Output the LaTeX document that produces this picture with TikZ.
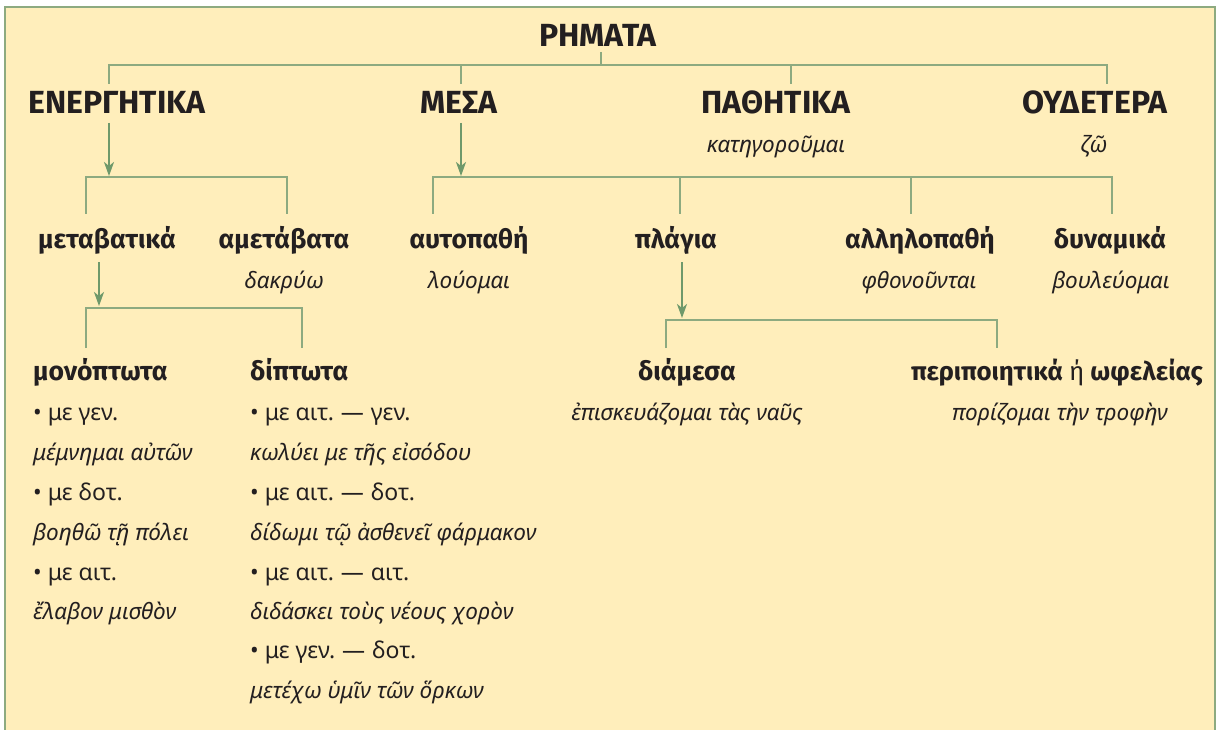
\documentclass[tikz,border=0pt]{standalone}
\usepackage{fontspec}
\setmainfont{Noto Sans}
\newfontfamily\hfont{Fira Sans}
\usetikzlibrary{arrows.meta}
\definecolor{bg}{HTML}{FFEEBB}
\definecolor{ln}{HTML}{8DAA80}
\definecolor{ar}{HTML}{6F996B}
\definecolor{tx}{HTML}{231F20}
\tikzset{
  conn/.style={draw=ln, line width=2pt},
  arr/.style={draw=ar, line width=2pt, -{Stealth[length=14pt,width=10pt,inset=4pt]}},
  hA/.style={font=\hfont\bfseries\fontsize{32}{34}\selectfont, text=tx, inner sep=0pt, anchor=base},
  hB/.style={font=\hfont\bfseries\fontsize{26.5}{28}\selectfont, text=tx, inner sep=0pt, anchor=base},
  exm/.style={font=\itshape\fontsize{22.5}{24}\selectfont, text=tx, inner sep=0pt, anchor=base},
  rg/.style={font=\fontsize{23}{24}\selectfont, text=tx, inner sep=0pt, anchor=base west},
}
\newcommand{\dsh}{\hspace{0.3em}—\hspace{0.3em}}
\begin{document}
\begin{tikzpicture}[x=1pt,y=-1pt]
\useasboundingbox (0,0) rectangle (1221,730);
\fill[white] (0,0) rectangle (1221,730);
\fill[bg] (5,7) rectangle (1215,730);
\draw[ln, line width=2.5pt] (5,730) -- (5,7) -- (1215,7) -- (1215,730);

% level 0 and 1
\node[hA] (rhm) at (598,47) {ΡΗΜΑΤΑ};
\node[hA] (ene) at (117,114) {ΕΝΕΡΓΗΤΙΚΑ};
\node[hA] (mes) at (459,114) {ΜΕΣΑ};
\node[hA] (pas) at (776,114) {ΠΑΘΗΤΙΚΑ};
\node[hA] (oud) at (1095,114) {ΟΥΔΕΤΕΡΑ};
\node[exm] (pasx) at (776,153) {κατηγοροῦμαι};
\node[exm] (oudx) at (1094,153) {ζῶ};

% level 2
\node[hB] (met) at (107,248) {μεταβατικά};
\node[hB] (amet) at (284,248) {αμετάβατα};
\node[exm] (ametx) at (284,288) {δακρύω};
\node[hB] (auto) at (469,248) {αυτοπαθή};
\node[exm] (autox) at (469,288) {λούομαι};
\node[hB] (plag) at (676,248) {πλάγια};
\node[hB] (allo) at (920,248) {αλληλοπαθή};
\node[exm] (allox) at (919,288) {φθονοῦνται};
\node[hB] (dyn) at (1110,248) {δυναμικά};
\node[exm] (dynx) at (1111,288) {βουλεύομαι};

% level 3
\node[hB, anchor=base west] (mono) at (33,380) {μονόπτωτα};
\node[rg] (m1) at (33,420) {• με γεν.};
\node[exm, anchor=base west] (m1x) at (33,460) {μέμνημαι αὐτῶν};
\node[rg] (m2) at (33,500) {• με δοτ.};
\node[exm, anchor=base west] (m2x) at (33,540) {βοηθῶ τῇ πόλει};
\node[rg] (m3) at (33,580) {• με αιτ.};
\node[exm, anchor=base west] (m3x) at (33,619) {ἔλαβον μισθὸν};

\node[hB, anchor=base west] (dip) at (250,380) {δίπτωτα};
\node[rg] (d1) at (250,420) {• με αιτ.\dsh γεν.};
\node[exm, anchor=base west] (d1x) at (250,460) {κωλύει με τῆς εἰσόδου};
\node[rg] (d2) at (250,500) {• με αιτ.\dsh δοτ.};
\node[exm, anchor=base west] (d2x) at (250,540) {δίδωμι τῷ ἀσθενεῖ φάρμακον};
\node[rg] (d3) at (250,580) {• με αιτ.\dsh αιτ.};
\node[exm, anchor=base west] (d3x) at (250,619) {διδάσκει τοὺς νέους χορὸν};
\node[rg] (d4) at (250,658) {• με γεν.\dsh δοτ.};
\node[exm, anchor=base west] (d4x) at (250,698) {μετέχω ὑμῖν τῶν ὅρκων};

\node[hB] (diam) at (687,380) {διάμεσα};
\node[exm] (diamx) at (687,420) {ἐπισκευάζομαι τὰς ναῦς};
\node[hB, font=\hfont\bfseries\fontsize{25.8}{28}\selectfont] (peri) at (1057,380) {περιποιητικά {\mdseries ή} ωφελείας};
\node[exm] (perix) at (1060,420) {πορίζομαι τὴν τροφὴν};

% connectors level 1
\coordinate (bus1) at (601,65);
\coordinate (t11) at (109,84);
\coordinate (t12) at (461,84);
\coordinate (t13) at (791,84);
\coordinate (t14) at (1107,84);
\draw[conn] (601,52) -- (bus1);
\draw[conn] (t11) -- (t11|-bus1) -- (t14|-bus1) -- (t14);
\draw[conn] (t12) -- (t12|-bus1);
\draw[conn] (t13) -- (t13|-bus1);

% arrows to level 2
\coordinate (a1s) at (109,123); \coordinate (a1e) at (109,176);
\coordinate (a2s) at (461,123); \coordinate (a2e) at (461,176);
\draw[arr] (a1s) -- (a1e);
\draw[arr] (a2s) -- (a2e);

\coordinate (bus2) at (0,177);
\coordinate (t21) at (86,214);
\coordinate (t22) at (287,214);
\draw[conn] (t21) -- (t21|-bus2) -- (t22|-bus2) -- (t22);
\coordinate (t23) at (433,214);
\coordinate (t24) at (680,214);
\coordinate (t25) at (911,214);
\coordinate (t26) at (1112,214);
\draw[conn] (t23) -- (t23|-bus2) -- (t26|-bus2) -- (t26);
\draw[conn] (t24) -- (t24|-bus2);
\draw[conn] (t25) -- (t25|-bus2);

% arrows to level 3
\coordinate (a3s) at (99,262); \coordinate (a3e) at (99,306);
\coordinate (a4s) at (682,262); \coordinate (a4e) at (682,318);
\draw[arr] (a3s) -- (a3e);
\draw[arr] (a4s) -- (a4e);

\coordinate (bus3) at (0,308);
\coordinate (t31) at (86,348);
\coordinate (t32) at (302,348);
\draw[conn] (t31) -- (t31|-bus3) -- (t32|-bus3) -- (t32);
\coordinate (bus4) at (0,320);
\coordinate (t41) at (666,348);
\coordinate (t42) at (997,348);
\draw[conn] (t41) -- (t41|-bus4) -- (t42|-bus4) -- (t42);
\end{tikzpicture}
\end{document}
